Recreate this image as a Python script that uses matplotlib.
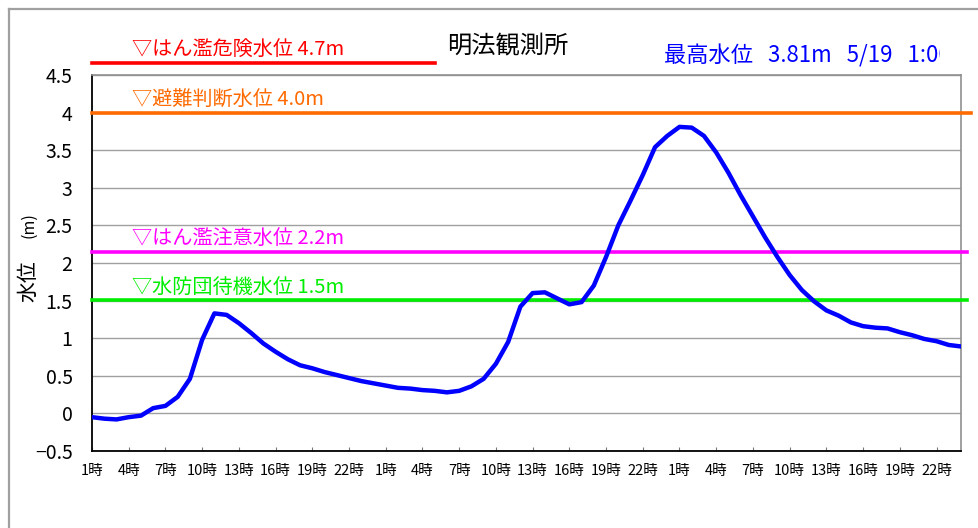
import matplotlib.pyplot as plt
from matplotlib.lines import Line2D
from matplotlib.transforms import Bbox, TransformedBbox

plt.rcParams['font.family'] = ['Noto Sans CJK JP', 'DejaVu Sans']

# hourly water level (m), 3 days starting 1時
level = [-0.05, -0.07, -0.08, -0.05, -0.03, 0.07, 0.10, 0.22, 0.46, 0.98,
         1.33, 1.31, 1.20, 1.07, 0.93, 0.82, 0.72, 0.64, 0.60, 0.55,
         0.51, 0.47, 0.43, 0.40, 0.37, 0.34, 0.33, 0.31, 0.30, 0.28,
         0.30, 0.36, 0.46, 0.66, 0.95, 1.42, 1.60, 1.61, 1.53, 1.45,
         1.48, 1.70, 2.08, 2.50, 2.83, 3.17, 3.54, 3.69, 3.81, 3.80,
         3.69, 3.47, 3.20, 2.90, 2.62, 2.34, 2.08, 1.84, 1.64, 1.49,
         1.37, 1.30, 1.21, 1.16, 1.14, 1.13, 1.08, 1.04, 0.99, 0.96,
         0.91, 0.89]
hours = list(range(len(level)))
xticklabels = [f"{h}時" for h in [1, 4, 7, 10, 13, 16, 19, 22]] * 3
yticks = [-0.5, 0, 0.5, 1, 1.5, 2, 2.5, 3, 3.5, 4, 4.5]
yticklabels = ["−0.5", "0", "0.5", "1", "1.5", "2", "2.5", "3", "3.5", "4", "4.5"]

# threshold lines: label, drawn level, end of line (hours), colour
thr_labels = ["▽はん濫危険水位 4.7m", "▽避難判断水位 4.0m", "▽はん濫注意水位 2.2m", "▽水防団待機水位 1.5m"]
thr_levels = [4.66, 4.0, 2.15, 1.51]
thr_ends = [28.0, 71.8, 71.5, 71.5]
thr_colors = ["#FF0000", "#FF6A00", "#FF00FF", "#00EE00"]
thr_text_y = [4.83, 4.17, 2.32, 1.68]

fig = plt.figure(figsize=(9.79, 5.28), dpi=100)
ax = fig.add_axes([92/979, 77/528, 869/979, 376/528])

ax.set_xlim(0, 71)
ax.set_ylim(-0.5, 4.5)
ax.set_yticks(yticks)
ax.set_yticklabels(yticklabels, fontsize=14)
ax.set_xticks(hours[::3])
ax.set_xticklabels(xticklabels, fontsize=10.5)
ax.tick_params(axis='y', length=0, pad=14)
ax.tick_params(axis='x', direction='in', length=3, pad=9, color='#777777')
ax.grid(axis='y', color='#A0A0A0', linewidth=1)
ax.set_axisbelow(True)
for s in ['top', 'right']:
    ax.spines[s].set_color('#909090')
    ax.spines[s].set_linewidth(1.2)
for s in ['left', 'bottom']:
    ax.spines[s].set_color('black')
    ax.spines[s].set_linewidth(1.3)

for lab, lv, end, c, ty in zip(thr_labels, thr_levels, thr_ends, thr_colors, thr_text_y):
    ax.plot([0, end], [lv, lv], color=c, linewidth=2.6, clip_on=False, zorder=3)
    ax.text(3.3, ty, lab, color=c, fontsize=14.5, va='center', ha='left', clip_on=False)

ax.plot(hours, level, color='#0000FF', linewidth=3.2, zorder=4)

# y axis title
fig.text(28/979, 1 - 281/528, "水位", rotation=90, fontsize=15, ha='center', va='center')
fig.text(29/979, 1 - 225/528, "(m)", rotation=90, fontsize=11.5, ha='center', va='center')

fig.text(508/979, 1 - 46/528, "明法観測所", fontsize=17.5, ha='center', va='center')
t = fig.text(664/979, 1 - 56/528, "最高水位   3.81m   5/19   1:00", color='#0000FF',
             fontsize=16, ha='left', va='center')
t.set_clip_box(TransformedBbox(Bbox([[0, 0], [940/979, 1]]), fig.transFigure))

# outer chart frame
fig.add_artist(Line2D([9/979, 9/979], [0, 1 - 9/528], color='#A0A0A0', linewidth=1.6))
fig.add_artist(Line2D([9/979, 1], [1 - 9/528, 1 - 9/528], color='#A0A0A0', linewidth=1.6))

fig.savefig('out.png', dpi=100)
